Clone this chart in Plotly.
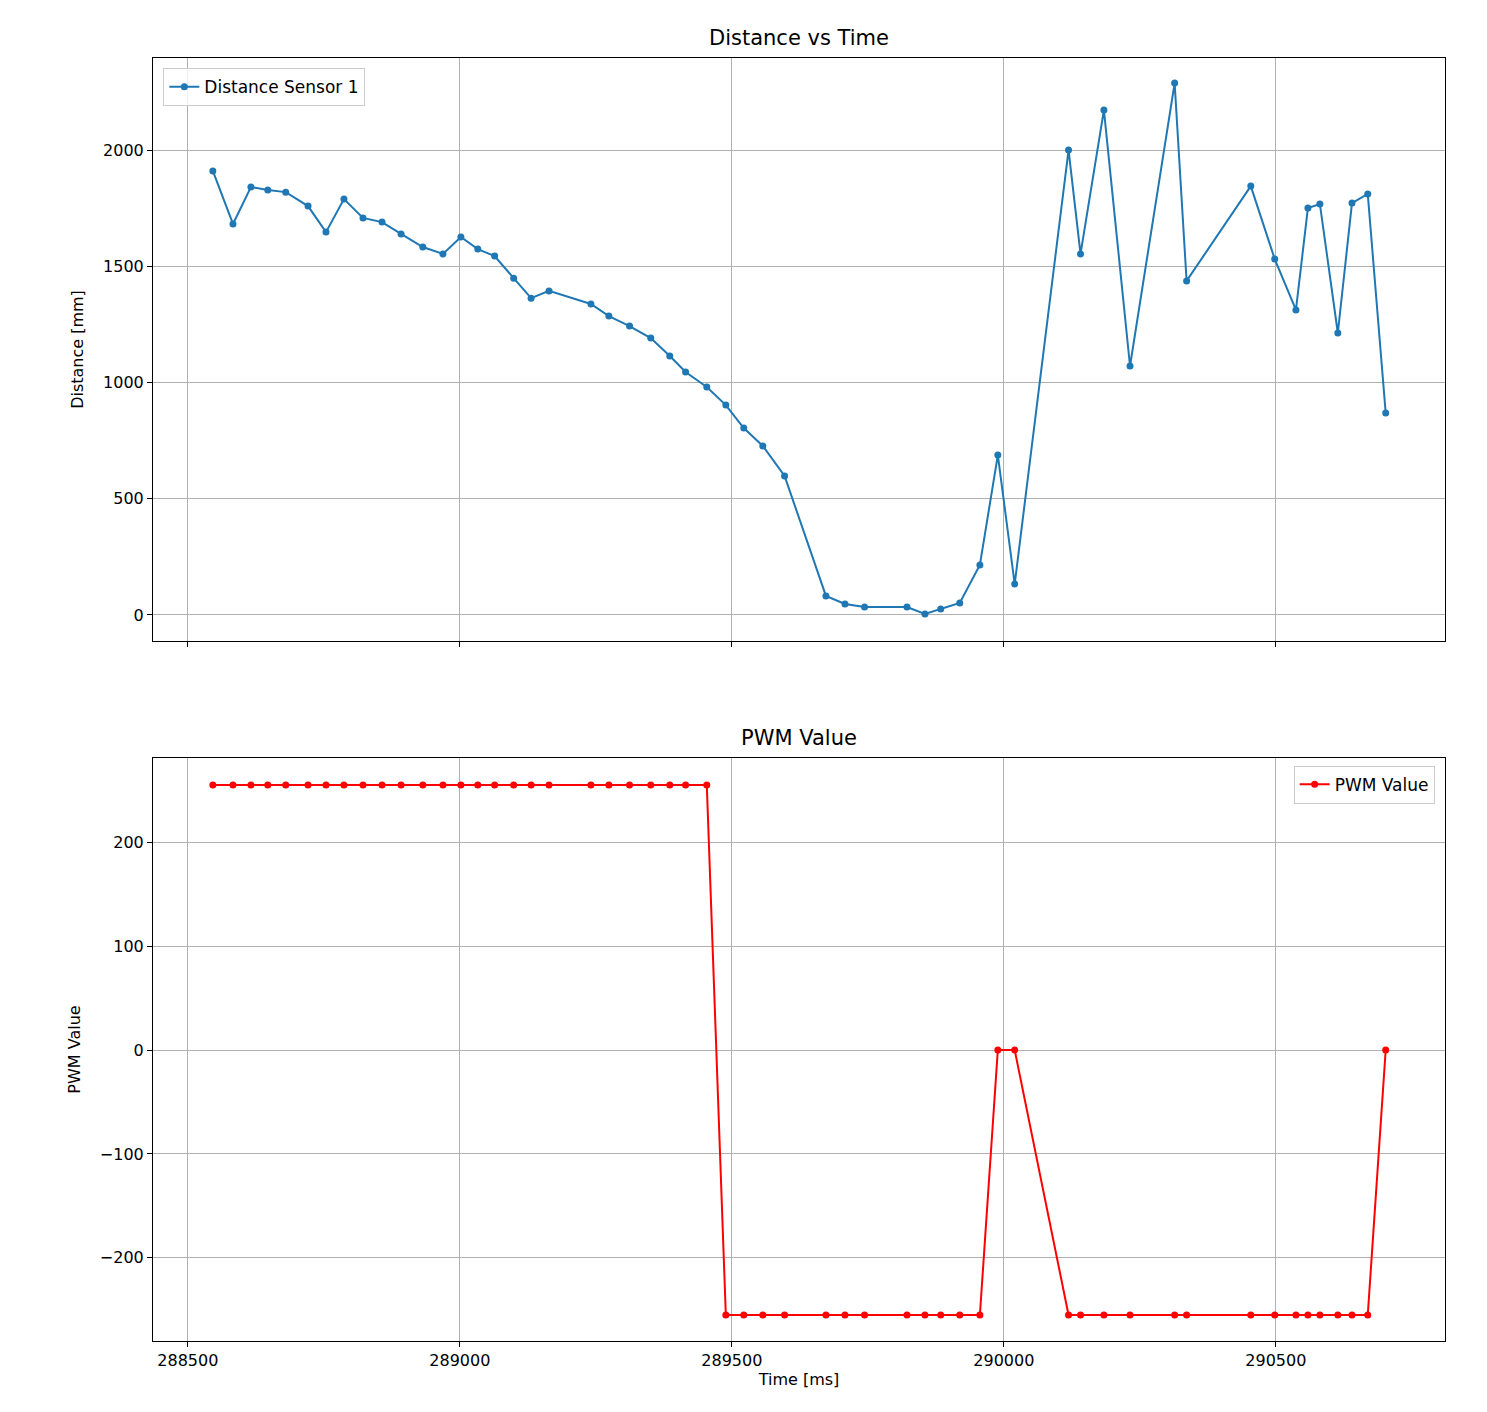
import plotly.graph_objects as go
from plotly.subplots import make_subplots

# time stamps [ms]
time_ms = [
    288546, 288583, 288616, 288647, 288680, 288721, 288754, 288787, 288822, 288857,
    288892, 288932, 288969, 289002, 289033, 289064, 289099, 289131, 289164, 289241,
    289274, 289312, 289351, 289386, 289415, 289454, 289489, 289522, 289557, 289597,
    289673, 289708, 289744, 289822, 289855, 289884, 289919, 289956, 289989, 290020,
    290119, 290141, 290184, 290232, 290314, 290336, 290454, 290498, 290537, 290559,
    290581, 290614, 290640, 290669, 290702,
]
distance_mm = [
    1910, 1682, 1841, 1828, 1819, 1759, 1647, 1789, 1708, 1690,
    1639, 1583, 1553, 1626, 1574, 1544, 1449, 1363, 1394, 1338,
    1286, 1243, 1191, 1114, 1045, 981, 903, 804, 727, 598,
    82, 47, 34, 34, 4, 26, 52, 215, 688, 133,
    2000, 1553, 2172, 1071, 2288, 1437, 1845, 1531, 1312, 1751,
    1768, 1213, 1772, 1811, 869,
]
pwm_value = (
    [255] * 26
    + [-255] * 12
    + [0, 0]
    + [-255] * 14
    + [0]
)

fig = make_subplots(rows=2, cols=1, shared_xaxes=True, vertical_spacing=117 / 1283)

fig.add_trace(
    go.Scatter(
        x=time_ms, y=distance_mm, mode="lines+markers", name="Distance Sensor 1",
        line={"color": "#1f77b4", "width": 2}, marker={"size": 7},
        showlegend=True, legend="legend",
    ),
    row=1, col=1,
)
fig.add_trace(
    go.Scatter(
        x=time_ms, y=pwm_value, mode="lines+markers", name="PWM Value",
        line={"color": "red", "width": 2}, marker={"size": 7},
        showlegend=True, legend="legend2",
    ),
    row=2, col=1,
)

axis_style = dict(
    showgrid=True, gridcolor="#b0b0b0", gridwidth=1, showline=True, linecolor="black",
    mirror=True, ticks="outside", ticklen=5, tickcolor="black", zeroline=False,
    tickfont={"size": 16, "color": "black"},
)
fig.update_xaxes(**axis_style, range=[288436, 290811], dtick=500, tickformat="d")
fig.update_xaxes(title_text="Time [ms]", title_font={"size": 16}, title_standoff=4, row=2, col=1)
fig.update_yaxes(**axis_style)
fig.update_yaxes(range=[-112, 2396], tickvals=[0, 500, 1000, 1500, 2000],
                 title_text="Distance [mm]", title_font={"size": 16}, row=1, col=1)
fig.update_yaxes(range=[-280, 281], tickvals=[-200, -100, 0, 100, 200],
                 ticktext=["\u2212200", "\u2212100", "0", "100", "200"],
                 title_text="PWM Value", title_font={"size": 16}, row=2, col=1)

for txt, y in [("Distance vs Time", 1.0), ("PWM Value", 583 / 1283)]:
    fig.add_annotation(text=txt, x=0.5, y=y, xref="paper", yref="paper", yanchor="bottom",
                       yshift=6, showarrow=False, font={"size": 21, "color": "black"})

legend_style = dict(bgcolor="rgba(255,255,255,0.8)", bordercolor="#cccccc", borderwidth=1,
                    font={"size": 17, "color": "black"})
fig.update_layout(
    width=1487, height=1412,
    margin={"l": 145, "r": 50, "t": 50, "b": 79},
    plot_bgcolor="white", paper_bgcolor="white",
    font={"family": "DejaVu Sans", "color": "black"},
    showlegend=True,
    legend={**legend_style, "x": 0.008, "y": 0.992, "xanchor": "left", "yanchor": "top"},
    legend2={**legend_style, "x": 0.992, "y": 583 / 1283 - 0.006, "xanchor": "right", "yanchor": "top"},
)

fig.write_html("out.html")
